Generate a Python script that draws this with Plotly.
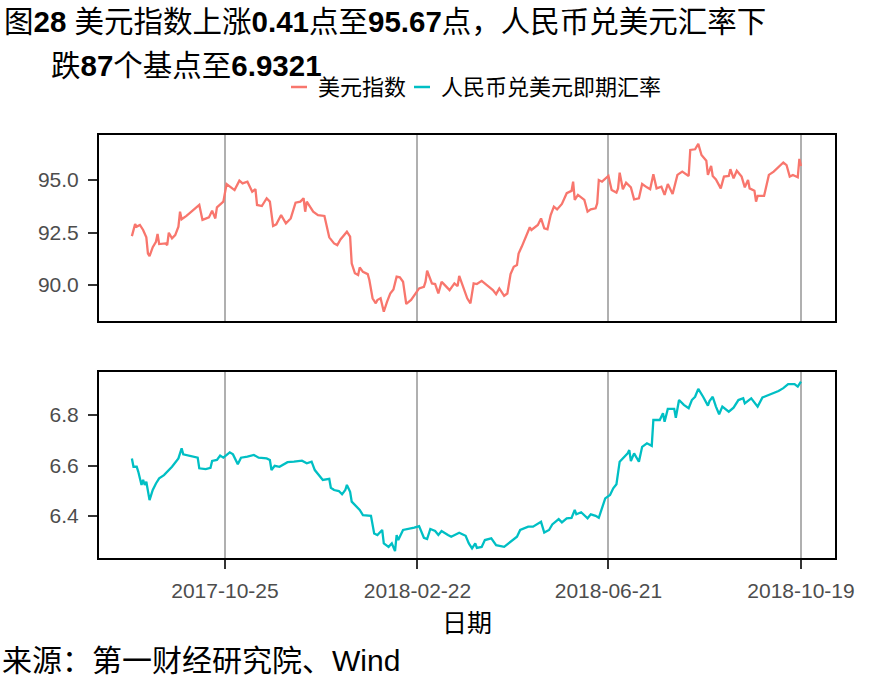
import plotly.graph_objects as go
from plotly.subplots import make_subplots

# ---------------- data ----------------
usd_dates = [
    "2017-08-28", "2017-08-30", "2017-08-31", "2017-09-02", "2017-09-04", "2017-09-06", "2017-09-07",
    "2017-09-08", "2017-09-10", "2017-09-12", "2017-09-13", "2017-09-14", "2017-09-18", "2017-09-19",
    "2017-09-20", "2017-09-22", "2017-09-24", "2017-09-26", "2017-09-27", "2017-09-28", "2017-10-01",
    "2017-10-05", "2017-10-09", "2017-10-11", "2017-10-15", "2017-10-17", "2017-10-19", "2017-10-20",
    "2017-10-24", "2017-10-26", "2017-10-28", "2017-10-31", "2017-11-03", "2017-11-05", "2017-11-08",
    "2017-11-09", "2017-11-11", "2017-11-13", "2017-11-14", "2017-11-17", "2017-11-20", "2017-11-22",
    "2017-11-24", "2017-11-26", "2017-11-29", "2017-12-02", "2017-12-05", "2017-12-08", "2017-12-11",
    "2017-12-13", "2017-12-14", "2017-12-15", "2017-12-19", "2017-12-22", "2017-12-26", "2017-12-29",
    "2018-01-01", "2018-01-03", "2018-01-05", "2018-01-09", "2018-01-11", "2018-01-12", "2018-01-14",
    "2018-01-16", "2018-01-17", "2018-01-19", "2018-01-22", "2018-01-23", "2018-01-25", "2018-01-27",
    "2018-01-28", "2018-01-30", "2018-02-01", "2018-02-03", "2018-02-05", "2018-02-07", "2018-02-09",
    "2018-02-11", "2018-02-13", "2018-02-15", "2018-02-18", "2018-02-23", "2018-02-26", "2018-02-27",
    "2018-02-28", "2018-03-03", "2018-03-05", "2018-03-07", "2018-03-09", "2018-03-10", "2018-03-14",
    "2018-03-17", "2018-03-19", "2018-03-20", "2018-03-23", "2018-03-25", "2018-03-27", "2018-03-29",
    "2018-03-31", "2018-04-03", "2018-04-07", "2018-04-10", "2018-04-12", "2018-04-14", "2018-04-17",
    "2018-04-19", "2018-04-21", "2018-04-23", "2018-04-25", "2018-04-26", "2018-04-28", "2018-05-01",
    "2018-05-03", "2018-05-04", "2018-05-08", "2018-05-10", "2018-05-12", "2018-05-14", "2018-05-16",
    "2018-05-18", "2018-05-20", "2018-05-23", "2018-05-24", "2018-05-26", "2018-05-29", "2018-05-30",
    "2018-05-31", "2018-06-02", "2018-06-06", "2018-06-08", "2018-06-10", "2018-06-13", "2018-06-14",
    "2018-06-15", "2018-06-17", "2018-06-21", "2018-06-23", "2018-06-26", "2018-06-27", "2018-06-28",
    "2018-06-30", "2018-07-02", "2018-07-05", "2018-07-07", "2018-07-10", "2018-07-12", "2018-07-15",
    "2018-07-17", "2018-07-19", "2018-07-21", "2018-07-24", "2018-07-26", "2018-07-28", "2018-07-30",
    "2018-07-31", "2018-08-03", "2018-08-06", "2018-08-10", "2018-08-11", "2018-08-14", "2018-08-16",
    "2018-08-18", "2018-08-21", "2018-08-22", "2018-08-24", "2018-08-25", "2018-08-27", "2018-08-30",
    "2018-09-01", "2018-09-04", "2018-09-05", "2018-09-07", "2018-09-09", "2018-09-12", "2018-09-14",
    "2018-09-16", "2018-09-17", "2018-09-20", "2018-09-21", "2018-09-22", "2018-09-26", "2018-09-29",
    "2018-10-02", "2018-10-08", "2018-10-10", "2018-10-12", "2018-10-14", "2018-10-17", "2018-10-18",
    "2018-10-19",
]
usd_index = [
    92.33, 92.90, 92.78, 92.86, 92.62, 92.27, 91.50,
    91.38, 91.80, 92.06, 92.43, 91.95, 91.98, 91.90,
    92.49, 92.22, 92.38, 92.78, 93.49, 93.13, 93.29,
    93.57, 93.81, 93.10, 93.22, 93.54, 93.17, 93.70,
    93.97, 94.81, 94.71, 94.52, 94.97, 94.84, 94.92,
    94.76, 94.44, 94.56, 93.81, 93.76, 94.13, 93.97,
    92.81, 92.89, 93.33, 92.94, 93.17, 93.92, 93.97,
    94.13, 93.49, 93.97, 93.49, 93.33, 93.29, 92.27,
    91.98, 91.90, 92.17, 92.54, 92.30, 91.03, 90.56,
    90.48, 90.84, 90.63, 90.52, 90.24, 89.37, 89.13,
    89.29, 89.37, 88.73, 89.20, 89.60, 89.79, 90.40,
    90.37, 90.16, 89.10, 89.29, 89.84, 89.92, 90.16,
    90.68, 90.08, 90.05, 89.60, 90.16, 90.08, 89.76,
    90.08, 89.95, 90.44, 89.76, 89.37, 89.13, 90.08,
    90.05, 90.20, 89.95, 89.76, 89.57, 89.84, 89.49,
    89.60, 90.52, 90.87, 90.95, 91.50, 91.83, 92.43,
    92.75, 92.62, 92.86, 93.17, 92.70, 92.65, 93.33,
    93.73, 93.60, 93.86, 94.05, 94.37, 94.48, 94.92,
    94.05, 94.29, 94.05, 93.49, 93.60, 93.65, 93.89,
    95.00, 94.92, 95.19, 94.52, 94.40, 94.60, 95.35,
    94.56, 94.87, 94.65, 94.08, 94.13, 94.81, 94.65,
    94.56, 95.27, 94.60, 94.68, 94.29, 94.81, 94.44,
    94.33, 95.24, 95.40, 95.19, 96.43, 96.46, 96.72,
    96.19, 95.92, 95.24, 95.67, 95.19, 95.03, 94.60,
    95.16, 95.19, 95.51, 95.08, 95.44, 95.16, 94.65,
    95.00, 94.60, 94.49, 93.97, 94.24, 94.24, 95.24,
    95.40, 95.83, 95.71, 95.16, 95.24, 95.13, 96.00,
    95.67,
]

cny_dates = [
    "2017-08-28", "2017-08-29", "2017-08-31", "2017-09-01", "2017-09-03", "2017-09-04", "2017-09-05",
    "2017-09-06", "2017-09-08", "2017-09-10", "2017-09-12", "2017-09-14", "2017-09-17", "2017-09-20",
    "2017-09-22", "2017-09-26", "2017-09-28", "2017-09-29", "2017-10-03", "2017-10-08", "2017-10-09",
    "2017-10-13", "2017-10-16", "2017-10-17", "2017-10-20", "2017-10-22", "2017-10-24", "2017-10-26",
    "2017-10-28", "2017-10-30", "2017-11-02", "2017-11-04", "2017-11-08", "2017-11-12", "2017-11-15",
    "2017-11-20", "2017-11-22", "2017-11-23", "2017-11-25", "2017-11-28", "2017-12-03", "2017-12-07",
    "2017-12-12", "2017-12-15", "2017-12-18", "2017-12-20", "2017-12-23", "2017-12-25", "2017-12-29",
    "2017-12-30", "2018-01-01", "2018-01-04", "2018-01-06", "2018-01-08", "2018-01-09", "2018-01-11",
    "2018-01-12", "2018-01-15", "2018-01-17", "2018-01-19", "2018-01-24", "2018-01-26", "2018-01-28",
    "2018-01-31", "2018-02-01", "2018-02-04", "2018-02-06", "2018-02-08", "2018-02-09", "2018-02-10",
    "2018-02-13", "2018-02-20", "2018-02-23", "2018-02-26", "2018-02-28", "2018-03-02", "2018-03-05",
    "2018-03-07", "2018-03-09", "2018-03-13", "2018-03-15", "2018-03-20", "2018-03-23", "2018-03-24",
    "2018-03-26", "2018-03-28", "2018-03-30", "2018-03-31", "2018-04-03", "2018-04-05", "2018-04-09",
    "2018-04-12", "2018-04-17", "2018-04-22", "2018-04-25", "2018-04-27", "2018-05-02", "2018-05-05",
    "2018-05-10", "2018-05-12", "2018-05-15", "2018-05-17", "2018-05-21", "2018-05-23", "2018-05-26",
    "2018-05-29", "2018-05-31", "2018-06-01", "2018-06-04", "2018-06-08", "2018-06-10", "2018-06-13",
    "2018-06-15", "2018-06-19", "2018-06-22", "2018-06-24", "2018-06-26", "2018-06-28", "2018-06-30",
    "2018-07-03", "2018-07-04", "2018-07-05", "2018-07-07", "2018-07-10", "2018-07-12", "2018-07-15",
    "2018-07-18", "2018-07-19", "2018-07-23", "2018-07-25", "2018-07-26", "2018-07-28", "2018-08-01",
    "2018-08-02", "2018-08-04", "2018-08-07", "2018-08-10", "2018-08-12", "2018-08-14", "2018-08-16",
    "2018-08-19", "2018-08-22", "2018-08-23", "2018-08-25", "2018-08-27", "2018-08-29", "2018-08-31",
    "2018-09-04", "2018-09-07", "2018-09-10", "2018-09-13", "2018-09-14", "2018-09-18", "2018-09-20",
    "2018-09-22", "2018-09-25", "2018-09-30", "2018-10-05", "2018-10-08", "2018-10-11", "2018-10-15",
    "2018-10-17", "2018-10-19",
]
cny_rate = [
    6.628, 6.595, 6.595, 6.575, 6.523, 6.543, 6.523,
    6.536, 6.463, 6.503, 6.529, 6.549, 6.562, 6.582,
    6.595, 6.628, 6.668, 6.644, 6.639, 6.631, 6.589,
    6.586, 6.591, 6.618, 6.622, 6.639, 6.631, 6.642,
    6.652, 6.644, 6.605, 6.631, 6.635, 6.642, 6.631,
    6.628, 6.622, 6.582, 6.599, 6.595, 6.613, 6.615,
    6.619, 6.609, 6.615, 6.582, 6.556, 6.543, 6.547,
    6.512, 6.503, 6.499, 6.486, 6.503, 6.523, 6.496,
    6.457, 6.437, 6.424, 6.404, 6.401, 6.331, 6.325,
    6.345, 6.292, 6.278, 6.292, 6.261, 6.325, 6.305,
    6.345, 6.354, 6.360, 6.314, 6.309, 6.349, 6.341,
    6.325, 6.341, 6.325, 6.318, 6.334, 6.325, 6.322,
    6.292, 6.272, 6.292, 6.274, 6.278, 6.305, 6.312,
    6.285, 6.278, 6.301, 6.318, 6.345, 6.358, 6.358,
    6.377, 6.335, 6.345, 6.367, 6.388, 6.375, 6.391,
    6.393, 6.424, 6.407, 6.415, 6.391, 6.407, 6.401,
    6.393, 6.470, 6.483, 6.510, 6.526, 6.615, 6.628,
    6.648, 6.661, 6.618, 6.648, 6.615, 6.674, 6.688,
    6.678, 6.780, 6.780, 6.807, 6.773, 6.824, 6.824,
    6.789, 6.859, 6.840, 6.827, 6.859, 6.872, 6.903,
    6.872, 6.837, 6.855, 6.872, 6.833, 6.803, 6.833,
    6.813, 6.829, 6.859, 6.866, 6.846, 6.866, 6.850,
    6.833, 6.869, 6.882, 6.895, 6.906, 6.922, 6.922,
    6.912, 6.932,
]

x_tick_dates = ["2017-10-25", "2018-02-22", "2018-06-21", "2018-10-19"]
usd_ticks = [90.0, 92.5, 95.0]
cny_ticks = [6.4, 6.6, 6.8]

series_names = ["美元指数", "人民币兑美元即期汇率"]
series_colors = ["#F8766D", "#00BFC4"]

title_line1 = "图<b>28</b> 美元指数上涨<b>0.41</b>点至<b>95.67</b>点，人民币兑美元汇率下"
title_line2 = "跌<b>87</b>个基点至<b>6.9321</b>"
x_title = "日期"
caption = "来源：第一财经研究院、Wind"

# ---------------- figure ----------------
FONT = "Liberation Sans, Arial, Noto Sans CJK SC, sans-serif"
W, H = 885, 688
L, R, T, B = 99, 50, 135, 130
PW, PH = W - L - R, H - T - B


def px_x(px):
    return (px - L) / PW


def px_y(py):
    return (H - B - py) / PH


fig = make_subplots(rows=2, cols=1, shared_xaxes=True)

fig.add_trace(go.Scatter(x=usd_dates, y=usd_index, mode="lines", name=series_names[0],
                         line=dict(color=series_colors[0], width=2.3), showlegend=False), row=1, col=1)
fig.add_trace(go.Scatter(x=cny_dates, y=cny_rate, mode="lines", name=series_names[1],
                         line=dict(color=series_colors[1], width=2.3), showlegend=False), row=2, col=1)

x_range = ["2017-08-07 12:00", "2018-11-09 05:00"]
common_x = dict(range=x_range, type="date", tickvals=x_tick_dates, tickformat="%Y-%m-%d",
                showgrid=True, gridcolor="#b0b0b0", gridwidth=1.5,
                showline=True, linecolor="black", linewidth=2, mirror=True, zeroline=False)
fig.update_xaxes(**common_x)
fig.update_xaxes(showticklabels=False, ticks="", row=1, col=1)
fig.update_xaxes(ticks="outside", ticklen=9, tickwidth=2, tickcolor="#333333",
                 tickfont=dict(family=FONT, size=21, color="#4d4d4d"),
                 ticklabelstandoff=4, row=2, col=1)

common_y = dict(showgrid=False, zeroline=False, showline=True, linecolor="black", linewidth=2,
                mirror=True, ticks="outside", ticklen=9, tickwidth=2, tickcolor="#333333",
                tickfont=dict(family=FONT, size=21, color="#4d4d4d"), ticklabelstandoff=5,
                tickformat=".1f")
fig.update_yaxes(**common_y)
fig.update_yaxes(range=[88.29, 97.14], tickvals=usd_ticks, row=1, col=1)
fig.update_yaxes(range=[6.234, 6.970], tickvals=cny_ticks, row=2, col=1)

gap = 51 / PH
fig.update_layout(
    yaxis=dict(domain=[(1 + gap) / 2, 1]),
    yaxis2=dict(domain=[0, (1 - gap) / 2]),
)

annotations = [
    dict(text=title_line1, x=px_x(2), y=px_y(21), xanchor="left", yanchor="middle",
         font=dict(family=FONT, size=29.5, color="black")),
    dict(text=title_line2, x=px_x(49), y=px_y(65), xanchor="left", yanchor="middle",
         font=dict(family=FONT, size=29.5, color="black")),
    dict(text=series_names[0], x=px_x(316), y=px_y(87), xanchor="left", yanchor="middle",
         font=dict(family=FONT, size=22, color="black")),
    dict(text=series_names[1], x=px_x(439), y=px_y(87), xanchor="left", yanchor="middle",
         font=dict(family=FONT, size=22, color="black")),
    dict(text=x_title, x=0.5, y=px_y(623), xanchor="center", yanchor="middle",
         font=dict(family=FONT, size=25, color="black")),
    dict(text=caption, x=px_x(0), y=px_y(660), xanchor="left", yanchor="middle",
         font=dict(family=FONT, size=30, color="black")),
]
for a in annotations:
    a.update(xref="paper", yref="paper", showarrow=False)

shapes = [
    dict(type="line", xref="paper", yref="paper", x0=px_x(291), x1=px_x(307), y0=px_y(87), y1=px_y(87),
         line=dict(color=series_colors[0], width=2.5)),
    dict(type="line", xref="paper", yref="paper", x0=px_x(414), x1=px_x(430), y0=px_y(87), y1=px_y(87),
         line=dict(color=series_colors[1], width=2.5)),
]

fig.update_layout(
    width=W, height=H,
    margin=dict(l=L, r=R, t=T, b=B, pad=0),
    paper_bgcolor="white", plot_bgcolor="white",
    annotations=annotations, shapes=shapes,
    showlegend=False,
    font=dict(family=FONT),
)

fig.write_html("out.html")
